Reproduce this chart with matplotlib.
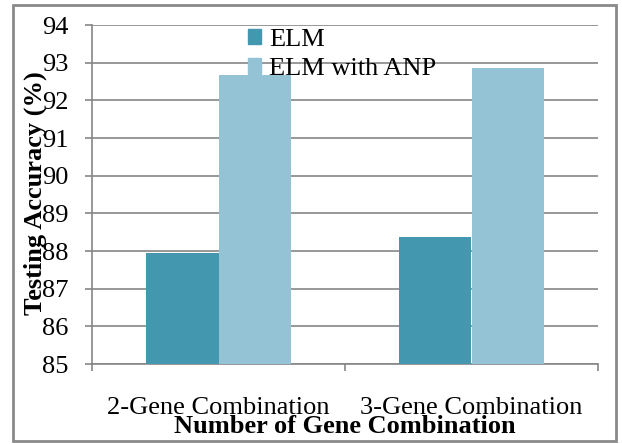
import numpy as np
import matplotlib
matplotlib.use('Agg')
import matplotlib.pyplot as plt
from matplotlib.patches import Patch, Rectangle

categories = ['2-Gene Combination', '3-Gene Combination']
elm = [87.95, 88.38]
elm_anp = [92.67, 92.87]
series_names = ['ELM', 'ELM with ANP']
colors = ['#4398B0', '#93C3D5']

plt.rcParams['font.family'] = ['Liberation Serif', 'DejaVu Serif']
fs = 19

fig = plt.figure(figsize=(6.22, 4.44), dpi=100)
ax = fig.add_axes([92 / 622, 1 - 364 / 444, 506 / 622, 339 / 444])

x = np.arange(len(categories))
w = 0.285
ax.bar(x - w / 2, elm, w, color=colors[0], zorder=3)
ax.bar(x + w / 2, elm_anp, w, color=colors[1], zorder=3)

ax.set_xlim(-0.5, 1.5)
ax.set_ylim(85, 94)
ax.set_yticks(range(85, 95))
ax.set_yticklabels([str(v) for v in range(85, 95)], fontsize=fs, fontname='Liberation Serif')
ax.tick_params(axis='y', length=5, width=1.2, color='#868686', pad=12)
ax.set_xticks([-0.5, 0.5, 1.5], minor=False)
ax.set_xticklabels([])
ax.set_xticks(x, minor=True)
ax.set_xticklabels(categories, minor=True, fontsize=fs, fontname='Liberation Serif')
ax.tick_params(axis='x', which='major', length=5, width=1.2, color='#868686')
ax.tick_params(axis='x', which='minor', length=0, pad=24)

ax.grid(axis='y', color='#868686', linewidth=1.2, zorder=0)
for s in ['top', 'right']:
    ax.spines[s].set_visible(False)
for s in ['left', 'bottom']:
    ax.spines[s].set_color('#868686')
    ax.spines[s].set_linewidth(1.2)

# axis titles sit on top of the tick labels
fig.text(345 / 622, 1 - 426 / 444, 'Number of Gene Combination', ha='center', va='center',
         fontsize=fs, fontweight='bold')
fig.text(35 / 622, 1 - 193 / 444, 'Testing Accuracy (%)', ha='center', va='center',
         rotation=90, fontsize=fs, fontweight='bold')

handles = [Patch(color=c) for c in colors]
fig.legend(handles, series_names, loc='upper left', bbox_to_anchor=(248 / 622, 1 - 29 / 444),
           frameon=False, fontsize=fs, handlelength=0.5, handleheight=0.5,
           handletextpad=0.3, labelspacing=0.28, borderpad=0, borderaxespad=0)

# outer frame around the chart area
fig.patches.append(Rectangle((13 / 622, 3 / 444), 603 / 622, 436 / 444,
                             transform=fig.transFigure, fill=False,
                             edgecolor='#8a8a8a', linewidth=2))

fig.savefig('out.png', dpi=100)
